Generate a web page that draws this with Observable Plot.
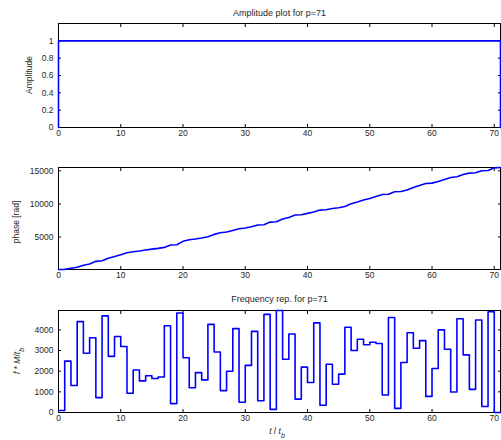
<!DOCTYPE html>
<html><head><meta charset="utf-8">
<script src="https://cdn.jsdelivr.net/npm/d3@7"></script>
<script src="https://cdn.jsdelivr.net/npm/@observablehq/plot@0.6"></script>
<style>
body{margin:0;background:#fff;}
#wrap{position:relative;width:501px;height:440px;overflow:hidden;background:#fff;}
#wrap svg{position:absolute;left:0;overflow:visible;}
</style></head><body><div id="wrap"></div>
<script>
// ---- data ----
const title1 = "Amplitude plot for p=71";
const title3 = "Frequency rep. for p=71";
const xTicks = [0, 10, 20, 30, 40, 50, 60, 70];
const ampTicks = [0, 0.2, 0.4, 0.6, 0.8, 1];
const phaseTicks = [5000, 10000, 15000];
const freqTicks = [0, 1000, 2000, 3000, 4000];

// amplitude: switched on at t=0, off at t=71
const ampT = [0, 0, 71, 71];
const ampV = [0, 1, 1, 0];

// phase [rad] at t = 0..71
const phaseV = [100, 120, 280, 430, 750, 930, 1330, 1430, 1790, 2050,
  2340, 2640, 2790, 2900, 3040, 3170, 3290, 3440, 3790, 3840,
  4350, 4600, 4700, 4850, 5050, 5400, 5650, 5750, 6000, 6260,
  6360, 6560, 6810, 6860, 7260, 7310, 7720, 7960, 8320, 8370,
  8570, 8770, 9070, 9120, 9320, 9420, 9620, 10020, 10280, 10580,
  10830, 11130, 11430, 11450, 11830, 11880, 12090, 12490, 12790, 13090,
  13140, 13390, 13690, 13990, 14100, 14450, 14650, 14700, 15000, 15050,
  15450, 15500];

// frequency level in each interval [t, t+1], t = 0..70
const freqV = [100, 2490, 1310, 4400, 2870, 3620, 720, 4680, 2720, 3680,
  3200, 930, 2060, 1530, 1780, 1650, 1720, 4200, 430, 4820,
  2650, 1200, 1930, 1580, 4270, 2930, 1060, 2000, 4060, 500,
  2280, 3930, 570, 4750, 150, 4940, 2580, 3800, 650, 2200,
  1450, 4340, 350, 2340, 1370, 1860, 4130, 3000, 3550, 3280,
  3400, 3340, 850, 4600, 200, 2420, 3860, 3110, 3480, 780,
  2130, 4000, 3060, 990, 4540, 2790, 1120, 4480, 290, 4880, 0];

// ---- tables ----
const ampData = ampT.map((t, i) => ({t, v: ampV[i]}));
const phaseData = phaseV.map((v, t) => ({t, v}));
const freqData = freqV.map((v, t) => ({t, v})).concat([{t: 71, v: freqV[freqV.length - 1]}]);

const FONT = "'Liberation Sans', Arial, Helvetica, sans-serif";
const BLUE = "#0000ff";
const wrap = document.getElementById("wrap");

function panel({top, height, mt, mb, yDomain, yTicks, data, curve}) {
  const svg = Plot.plot({
    width: 501, height,
    marginTop: mt, marginBottom: mb, marginLeft: 58, marginRight: 1,
    style: {fontFamily: FONT, fontSize: "8.5px", color: "#262626", background: "transparent", overflow: "visible"},
    x: {domain: [0, 71]},
    y: {domain: yDomain},
    marks: [
      Plot.frame({stroke: "#000", strokeWidth: 1}),
      Plot.axisX(xTicks, {anchor: "bottom", tickSize: -3, tickPadding: 5, tickFormat: d => String(d), label: null, stroke: "#000"}),
      Plot.axisX(xTicks, {anchor: "top", tickSize: -3, tickFormat: () => "", label: null, stroke: "#000"}),
      Plot.axisY(yTicks, {anchor: "left", tickSize: -3, tickPadding: 8, tickFormat: d => String(d), label: null, stroke: "#000"}),
      Plot.axisY(yTicks, {anchor: "right", tickSize: -3, tickFormat: () => "", label: null, stroke: "#000"}),
      Plot.line(data, {x: "t", y: "v", stroke: BLUE, strokeWidth: 1.6, curve: curve || "linear"})
    ]
  });
  svg.style.top = top + "px";
  wrap.appendChild(svg);
  return d3.select(svg);
}

function addText(sel, x, y, txt, opts = {}) {
  const t = sel.append("text")
    .attr("x", x).attr("y", y)
    .attr("text-anchor", "middle")
    .attr("font-family", FONT)
    .attr("font-size", opts.size || 8.5)
    .attr("fill", "#262626");
  if (opts.rotate) t.attr("transform", `rotate(-90 ${x} ${y})`);
  if (typeof txt === "string") t.text(txt);
  else txt.forEach(p => {
    const s = t.append("tspan").text(p.s);
    if (p.i) s.attr("font-style", "italic");
    if (p.sub) s.attr("baseline-shift", "sub").attr("font-size", 7);
  });
  return t;
}

// Panel 1: amplitude
const p1 = panel({top: 0, height: 147, mt: 23, mb: 20, yDomain: [0, 1.2], yTicks: ampTicks, data: ampData});
addText(p1, 279.5, 16, title1, {size: 9});
addText(p1, 32, 75, "Amplitude", {rotate: true});

// Panel 2: phase
const p2 = panel({top: 147, height: 142, mt: 20, mb: 20, yDomain: [100, 15500], yTicks: phaseTicks, data: phaseData});
addText(p2, 19, 222 - 147, "phase [rad]", {rotate: true});

// Panel 3: frequency
const p3 = panel({top: 289, height: 151, mt: 21, mb: 28, yDomain: [0, 4940], yTicks: freqTicks, data: freqData, curve: "step-after"});
addText(p3, 279.5, 302 - 289, title3, {size: 9});
addText(p3, 20, 361 - 289, [{s: "f", i: true}, {s: " * "}, {s: "M", i: true}, {s: "/"}, {s: "t", i: true}, {s: "b", i: true, sub: true}], {rotate: true});
addText(p3, 277, 434 - 289, [{s: "t", i: true}, {s: " / "}, {s: "t", i: true}, {s: "b", i: true, sub: true}]);
</script>
</body></html>
